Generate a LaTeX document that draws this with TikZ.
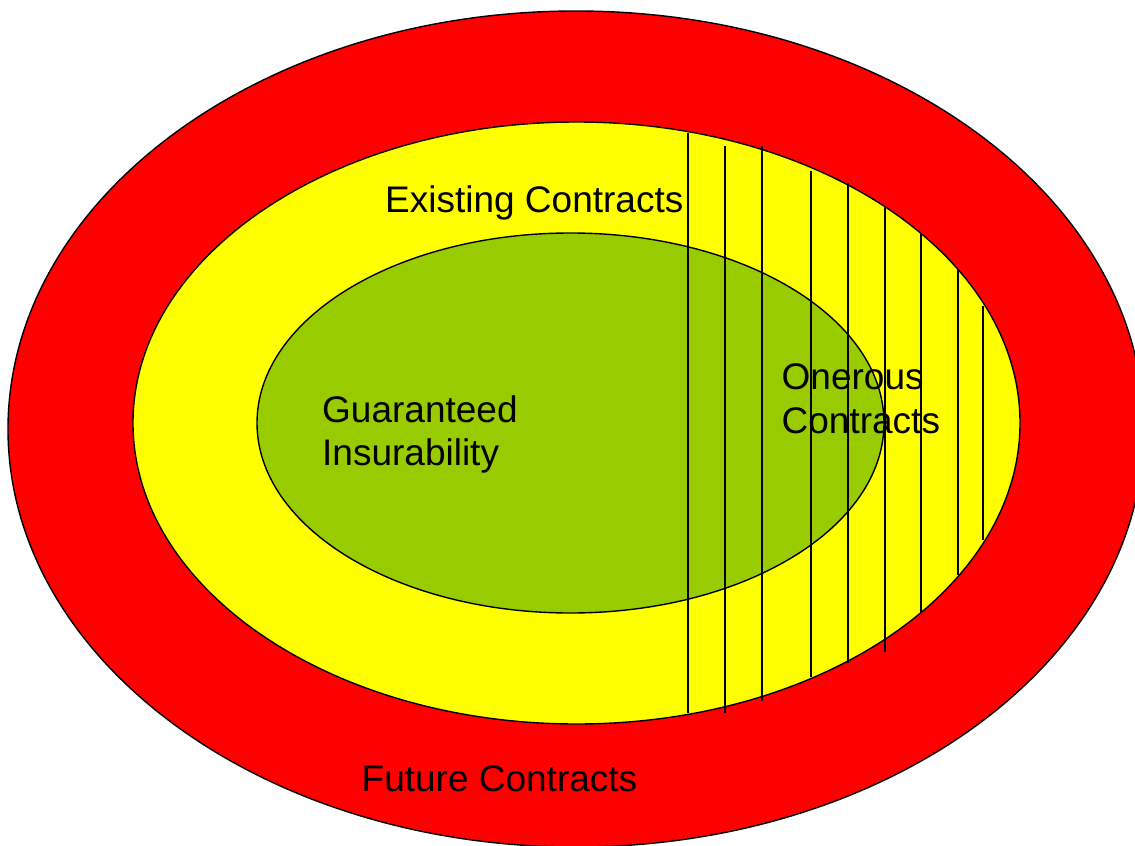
\documentclass[tikz,border=0pt]{standalone}
\usepackage{fontspec}
\setmainfont{Liberation Sans}
\definecolor{ringred}{HTML}{FF0000}
\definecolor{ringyellow}{HTML}{FFFF00}
\definecolor{ringgreen}{HTML}{99CC00}
\tikzset{
  ring/.style={draw=black, line width=1.4bp},
  hatchline/.style={draw=black, line width=2bp},
  lbl/.style={inner sep=0pt, font=\fontsize{37bp}{43.5bp}\selectfont, align=left, anchor=base west}
}
\begin{document}
\begin{tikzpicture}[x=1bp, y=-1bp]
\clip (0,0) rectangle (1135,846);
\fill[white] (0,0) rectangle (1135,846);
\path[ring, fill=ringred] (576,429) ellipse [x radius=568bp, y radius=418bp];
\path[ring, fill=ringyellow] (576.5,423) ellipse [x radius=443.5bp, y radius=301bp];
\path[ring, fill=ringgreen] (570.5,423) ellipse [x radius=313.5bp, y radius=190bp];
\foreach \x/\t/\b [count=\i] in {687.5/133/713, 724.5/146/713, 761.5/146/700.5, 810.5/170.5/676.5, 847.5/183/663, 884.5/207/651.5, 921/233/611.5, 958/270/575, 983/306/540}{
  \coordinate (t\i) at (\x,\t);
  \coordinate (b\i) at (\x,\b);
  \draw[hatchline] (t\i) -- (b\i);
}
\node[lbl] (existing) at (385,212.7) {Existing Contracts};
\node[lbl] (guaranteed) at (322,465.5) {Guaranteed\\Insurability};
\node[lbl] (onerous) at (781.5,433) {Onerous\\Contracts};
\node[lbl] (future) at (361.5,791) {Future Contracts};
\end{tikzpicture}
\end{document}
